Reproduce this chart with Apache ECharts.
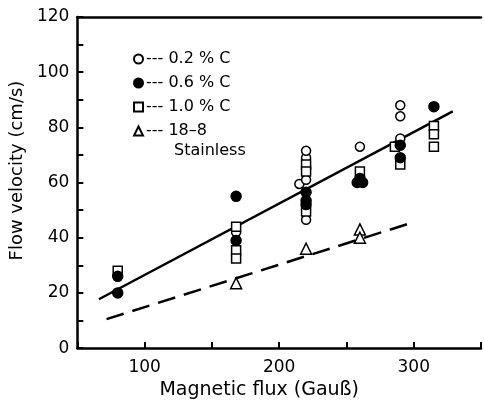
<!DOCTYPE html>
<html>
<head>
<meta charset="utf-8">
<script src="https://cdn.jsdelivr.net/npm/echarts@6/dist/echarts.min.js"></script>
<style>
  html, body { margin: 0; padding: 0; background: #fff; }
  #chart { width: 484px; height: 405px; }
</style>
</head>
<body>
<div id="chart"></div>
<script>
// points: [magnetic flux (Gauss), flow velocity (cm/s)]
const carbon02 = [
  [168, 42], [215, 59.5], [220, 61], [220, 69], [220, 71.5], [220, 46.5],
  [260, 73], [290, 76], [290, 84], [290, 88]
]
const carbon06 = [
  [80, 26], [80, 20], [168, 55], [168, 39],
  [220, 56.5], [220, 53.5], [220, 52],
  [258, 60], [262, 60], [260, 61.5],
  [290, 73.5], [290, 69], [315, 87.5]
]
const carbon10 = [
  [80, 28], [168, 44], [168, 35.5], [168, 32.5],
  [220, 66.5], [220, 64], [220, 49.5],
  [260, 64], [286, 73], [290, 66.5],
  [315, 80.5], [315, 77.5], [315, 73]
]
const stainless = [[168, 23.5], [220, 36], [260, 43], [260, 40]]

// fitted lines as drawn in the figure
const carbonLine = [[66, 17.7], [329, 85.8]]
const stainlessLine = [[71.7, 10.5], [301, 45.8]]

const seriesNames = ['0.2 % C', '0.6 % C', '1.0 % C', '18\u20138']
const xTickLabels = [100, 200, 300]
const yTickLabels = [0, 20, 40, 60, 80, 100, 120]

const font = 'DejaVu Sans, Liberation Sans, sans-serif'
const chart = echarts.init(document.getElementById('chart'))

const marker = (fill) => ({
  color: fill,
  borderColor: '#000',
  borderWidth: 1.5,
  opacity: 1
})

const option = {
  backgroundColor: '#fff',
  animation: false,
  grid: { left: 75, right: -7, top: 17, bottom: 55 },
  legend: {
    orient: 'vertical',
    left: 128,
    top: 46,
    itemWidth: 9,
    itemHeight: 9,
    itemGap: 8,
    selectedMode: false,
    data: seriesNames,
    formatter: (name) => '--- ' + name,
    textStyle: { fontFamily: font, fontSize: 16, color: '#000', padding: [0, 0, 0, -2] }
  },
  graphic: [
    {
      type: 'text',
      left: 174,
      top: 143,
      style: { text: 'Stainless', font: '16px ' + font, fill: '#000' }
    }
  ],
  xAxis: [
    {
      type: 'value',
      min: 50,
      max: 350,
      interval: 50,
      name: 'Magnetic flux (Gau\u00df)',
      nameLocation: 'middle',
      nameGap: 28,
      nameTextStyle: { fontFamily: font, fontSize: 19, color: '#000', padding: [0, 40, 0, 0] },
      axisLine: { lineStyle: { color: '#000', width: 2.5 } },
      axisTick: { inside: true, length: 6, lineStyle: { color: '#000', width: 2 } },
      axisLabel: {
        margin: 11,
        fontFamily: font,
        fontSize: 17,
        color: '#000',
        formatter: (v) => (xTickLabels.includes(v) ? String(v) : '')
      },
      splitLine: { show: false }
    },
    {
      type: 'value',
      position: 'top',
      min: 50,
      max: 350,
      axisLine: { lineStyle: { color: '#000', width: 2.5 } },
      axisTick: { show: false },
      axisLabel: { show: false },
      splitLine: { show: false }
    }
  ],
  yAxis: {
    type: 'value',
    min: 0,
    max: 120,
    interval: 10,
    name: 'Flow velocity (cm/s)',
    nameLocation: 'middle',
    nameGap: 50,
    nameTextStyle: { fontFamily: font, fontSize: 18, color: '#000', padding: [0, 0, 0, 24] },
    axisLine: { lineStyle: { color: '#000', width: 2.5 } },
    axisTick: { inside: true, length: 6, lineStyle: { color: '#000', width: 2 } },
    axisLabel: {
      margin: 8,
      fontFamily: font,
      fontSize: 17,
      color: '#000',
      formatter: (v) => (yTickLabels.includes(v) ? String(v) : '')
    },
    splitLine: { show: false }
  },
  series: [
    {
      type: 'line',
      data: carbonLine,
      showSymbol: false,
      silent: true,
      lineStyle: { color: '#000', width: 2.5 }
    },
    {
      type: 'line',
      data: stainlessLine,
      showSymbol: false,
      silent: true,
      lineStyle: { color: '#000', width: 2.5, type: [18, 9] }
    },
    {
      name: seriesNames[0],
      type: 'scatter',
      symbol: 'circle',
      symbolSize: 9,
      data: carbon02,
      itemStyle: marker('#fff'),
      z: 3
    },
    {
      name: seriesNames[1],
      type: 'scatter',
      symbol: 'circle',
      symbolSize: 10,
      data: carbon06,
      itemStyle: marker('#000'),
      z: 4
    },
    {
      name: seriesNames[2],
      type: 'scatter',
      symbol: 'rect',
      symbolSize: 9,
      data: carbon10,
      itemStyle: marker('#fff'),
      z: 3
    },
    {
      name: seriesNames[3],
      type: 'scatter',
      symbol: 'triangle',
      symbolSize: 11,
      data: stainless,
      itemStyle: marker('#fff'),
      z: 3
    }
  ]
}

chart.setOption(option)
</script>
</body>
</html>
